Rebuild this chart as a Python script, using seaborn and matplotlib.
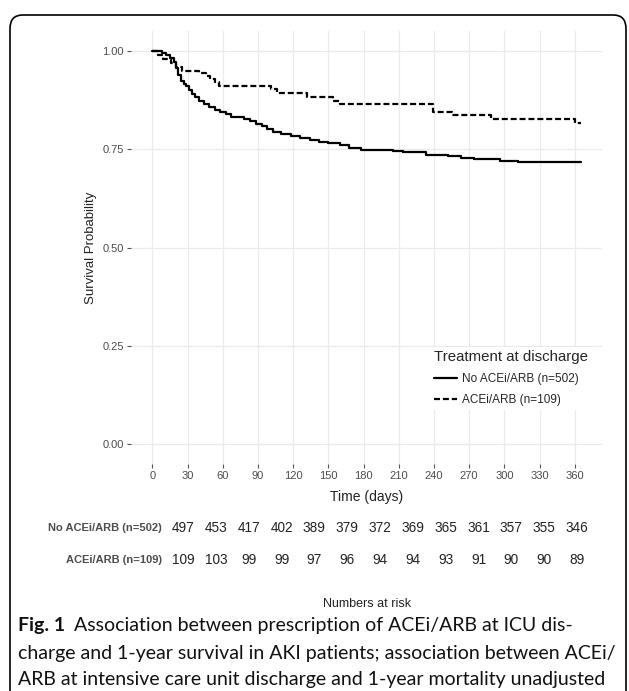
"""Kaplan-Meier style survival curves with a numbers-at-risk table"""

import pandas as pd
import seaborn as sns
import matplotlib.pyplot as plt
from matplotlib.patches import FancyBboxPatch
from matplotlib.transforms import blended_transform_factory

# step points (day, survival probability)
no_acei_days = [0, 8, 12, 15, 18, 20, 22, 24, 27, 29, 31, 34, 36, 40, 44, 48, 53,
                58, 63, 67, 78, 83, 88, 93, 98, 103, 110, 118, 126, 134, 142, 150,
                160, 168, 178, 205, 214, 233, 252, 263, 274, 296, 312, 365]
no_acei_surv = [1.0, 0.995, 0.99, 0.982, 0.973, 0.958, 0.94, 0.925, 0.917, 0.912,
                0.9, 0.89, 0.883, 0.873, 0.866, 0.858, 0.851, 0.846, 0.84, 0.833,
                0.828, 0.822, 0.815, 0.808, 0.802, 0.795, 0.789, 0.784, 0.779,
                0.774, 0.769, 0.765, 0.76, 0.754, 0.749, 0.746, 0.742, 0.736,
                0.732, 0.728, 0.724, 0.72, 0.717, 0.717]

acei_days = [0, 5, 9, 16, 20, 25, 40, 46, 49, 53, 57, 101, 106, 132, 154, 160,
             239, 255, 289, 360, 365]
acei_surv = [1.0, 0.99, 0.981, 0.969, 0.96, 0.95, 0.943, 0.936, 0.93, 0.922, 0.912,
             0.903, 0.894, 0.884, 0.874, 0.865, 0.845, 0.838, 0.827, 0.817, 0.817]

groups = ["No ACEi/ARB (n=502)", "ACEi/ARB (n=109)"]
risk_times = list(range(0, 361, 30))
risk_no_acei = [497, 453, 417, 402, 389, 379, 372, 369, 365, 361, 357, 355, 346]
risk_acei = [109, 103, 99, 99, 97, 96, 94, 94, 93, 91, 90, 90, 89]

df = pd.concat([
    pd.DataFrame({"time": no_acei_days, "surv": no_acei_surv, "group": groups[0]}),
    pd.DataFrame({"time": acei_days, "surv": acei_surv, "group": groups[1]}),
])

W, H = 629, 691
sns.set_theme(style="whitegrid")
plt.rcParams["font.family"] = ["Liberation Sans", "DejaVu Sans"]
fig = plt.figure(figsize=(W / 100, H / 100), dpi=100)
fig.patch.set_facecolor("white")

# main panel
ax = fig.add_axes([131 / W, 1 - 463.6 / H, 471 / W, 432.2 / H])
sns.lineplot(data=df, x="time", y="surv", style="group", style_order=groups,
             dashes={groups[0]: "", groups[1]: (2.7, 1.3)}, color="black",
             linewidth=1.6, drawstyle="steps-post", estimator=None, sort=True, ax=ax)

ax.set_xlim(-18.25, 383.25)
ax.set_ylim(-0.05, 1.05)
ax.set_xticks(risk_times)
ax.set_yticks([0, 0.25, 0.5, 0.75, 1.0])
ax.set_yticklabels(["0.00", "0.25", "0.50", "0.75", "1.00"])
ax.set_facecolor("white")
ax.grid(True, color="#ebebeb", linewidth=0.9)
for s in ax.spines.values():
    s.set_visible(False)
ax.tick_params(axis="both", which="both", length=3, width=0.8, color="#555555",
               labelsize=8, labelcolor="#4d4d4d", pad=2, left=True, bottom=True)
ax.set_xlabel("Time (days)", fontsize=10, color="#222222", labelpad=7)
ax.set_ylabel("Survival Probability", fontsize=9.5, color="#222222", labelpad=4)

handles, labels = ax.get_legend_handles_labels()
leg = ax.legend(handles, labels, title="Treatment at discharge", loc="upper left",
                bbox_to_anchor=(425 / W, 1 - 341 / H), bbox_transform=fig.transFigure,
                fontsize=8.5, title_fontproperties={"size": 10.8}, frameon=True,
                facecolor="white", edgecolor="none", framealpha=1, handlelength=1.9,
                handletextpad=0.45, borderpad=0.3, labelspacing=0.75, alignment="left")

# numbers at risk table
ax_tab = fig.add_axes([131 / W, 1 - 585 / H, 471 / W, 80 / H])
ax_tab.set_xlim(-47.5, 382.8)
ax_tab.set_ylim(0, 1)
ax_tab.axis("off")
tf = blended_transform_factory(fig.transFigure, ax_tab.transAxes)
rows = [(groups[0], risk_no_acei, 0.7125), (groups[1], risk_acei, 0.3125)]
for name, counts, yy in rows:
    ax_tab.text(162 / W, yy, name, transform=tf, ha="right", va="center",
                fontsize=8, fontweight="bold", color="#4d4d4d")
    for t, n in zip(risk_times, counts):
        ax_tab.text(t, yy, str(n), ha="center", va="center", fontsize=9.8,
                    color="#222222")

fig.text(367 / W, 1 - 604 / H, "Numbers at risk", ha="center", va="center",
         fontsize=9, color="#222222")

# caption
cap_size = 14
cap_font = "Lato"
lines = ["Association between prescription of ACEi/ARB at ICU dis-",
         "charge and 1-year survival in AKI patients; association between ACEi/",
         "ARB at intensive care unit discharge and 1-year mortality unadjusted"]
fig_lbl = fig.text(18 / W, 1 - 626 / H, "Fig. 1", ha="left", va="center",
                   fontsize=cap_size, fontweight="bold", family=cap_font, color="#111111")
fig.canvas.draw()
bb = fig_lbl.get_window_extent()
fig.text((bb.x1 + 9) / W, 1 - 626 / H, lines[0], ha="left", va="center",
         fontsize=cap_size, family=cap_font, color="#111111")
fig.text(18 / W, 1 - 653 / H, lines[1], ha="left", va="center",
         fontsize=cap_size, family=cap_font, color="#111111")
fig.text(18 / W, 1 - 680 / H, lines[2], ha="left", va="center",
         fontsize=cap_size, family=cap_font, color="#111111")

# rounded frame around the figure
frame = FancyBboxPatch((10 / W, -0.05), 616 / W, 1.05 - 15 / H,
                       boxstyle="round,pad=0,rounding_size=0.02",
                       transform=fig.transFigure, facecolor="none",
                       edgecolor="black", linewidth=1.2)
fig.add_artist(frame)

fig.savefig("out.png", dpi=100)
